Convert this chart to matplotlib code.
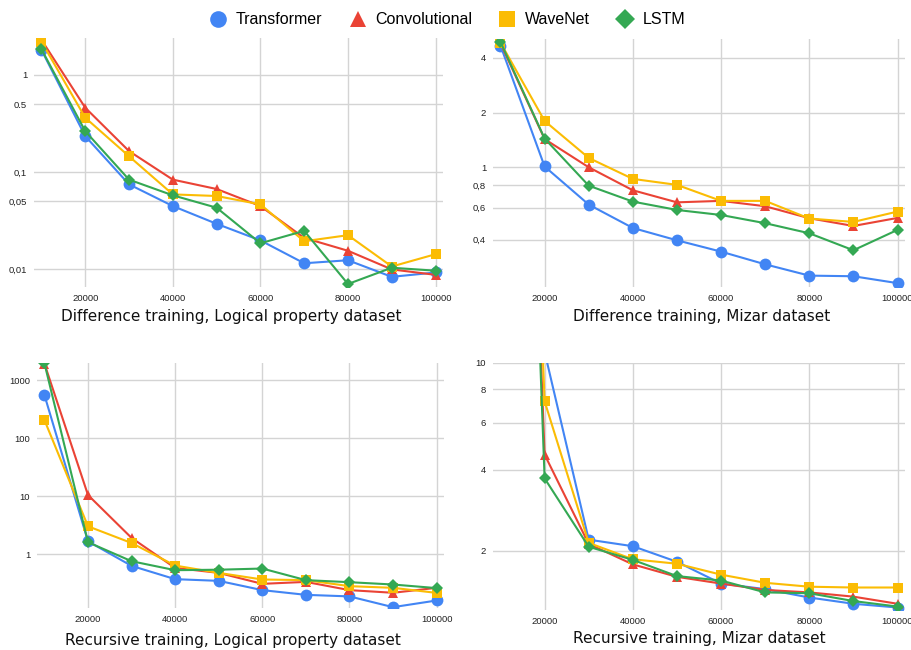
import matplotlib
matplotlib.use("Agg")
import matplotlib.pyplot as plt
from matplotlib.lines import Line2D

# training steps
steps = [10000, 20000, 30000, 40000, 50000, 60000, 70000, 80000, 90000, 100000]
models = ["Transformer", "Convolutional", "WaveNet", "LSTM"]
colors = ["#4285F4", "#EA4335", "#FBBC04", "#34A853"]
markers = ["o", "^", "s", "D"]
msizes = [8.5, 6.5, 6.5, 6]

# Difference training, Logical property dataset
diff_logic_transformer = [1.81, 0.234, 0.0745, 0.0445, 0.0292, 0.0197, 0.01145, 0.0123, 0.0083, 0.0092]
diff_logic_conv = [2.3, 0.459, 0.164, 0.0833, 0.0667, 0.0445, 0.0209, 0.0154, 0.0099, 0.0087]
diff_logic_wavenet = [2.2, 0.362, 0.145, 0.0587, 0.0565, 0.0463, 0.0193, 0.0223, 0.0106, 0.0142]
diff_logic_lstm = [1.84, 0.263, 0.0833, 0.0574, 0.0428, 0.0184, 0.0247, 0.0070, 0.0103, 0.0096]

# Difference training, Mizar dataset
diff_mizar_transformer = [4.68, 1.01, 0.623, 0.463, 0.396, 0.343, 0.292, 0.253, 0.251, 0.230]
diff_mizar_conv = [4.82, 1.43, 1.0, 0.747, 0.641, 0.653, 0.61, 0.524, 0.475, 0.526]
diff_mizar_wavenet = [4.86, 1.80, 1.126, 0.863, 0.80, 0.653, 0.653, 0.522, 0.50, 0.570]
diff_mizar_lstm = [4.9, 1.44, 0.792, 0.647, 0.582, 0.546, 0.492, 0.433, 0.349, 0.452]

# Recursive training, Logical property dataset
rec_logic_transformer = [559, 1.67, 0.629, 0.371, 0.347, 0.240, 0.199, 0.187, 0.122, 0.159]
rec_logic_conv = [1950, 10.5, 1.91, 0.58, 0.476, 0.308, 0.333, 0.240, 0.216, 0.263]
rec_logic_wavenet = [207, 3.03, 1.56, 0.637, 0.476, 0.366, 0.357, 0.281, 0.263, 0.215]
rec_logic_lstm = [1980, 1.61, 0.757, 0.53, 0.54, 0.566, 0.357, 0.329, 0.30, 0.26]

# Recursive training, Mizar dataset (10000-step values are far above the axis)
rec_mizar_transformer = [50000, 11.0, 2.2, 2.08, 1.82, 1.51, 1.44, 1.34, 1.27, 1.23]
rec_mizar_conv = [100000, 4.56, 2.12, 1.78, 1.60, 1.51, 1.43, 1.40, 1.35, 1.27]
rec_mizar_wavenet = [100000, 7.2, 2.14, 1.86, 1.79, 1.63, 1.52, 1.47, 1.46, 1.46]
rec_mizar_lstm = [100000, 3.72, 2.07, 1.85, 1.61, 1.55, 1.40, 1.39, 1.30, 1.24]

xticks = [20000, 40000, 60000, 80000, 100000]

panels = [
    dict(series=[diff_logic_transformer, diff_logic_conv, diff_logic_wavenet, diff_logic_lstm],
         title="Difference training, Logical property dataset",
         yticks=[1, 0.5, 0.1, 0.05, 0.01], ylabels=["1", "0.5", "0,1", "0,05", "0,01"],
         ylim=(0.00652, 2.4), box=(34, 443, 38, 287), title_xy=(231, 317)),
    dict(series=[diff_mizar_transformer, diff_mizar_conv, diff_mizar_wavenet, diff_mizar_lstm],
         title="Difference training, Mizar dataset",
         yticks=[4, 2, 1, 0.8, 0.6, 0.4], ylabels=["4", "2", "1", "0,8", "0,6", "0,4"],
         ylim=(0.219, 5.09), box=(493, 905, 39, 287), title_xy=(702, 316)),
    dict(series=[rec_logic_transformer, rec_logic_conv, rec_logic_wavenet, rec_logic_lstm],
         title="Recursive training, Logical property dataset",
         yticks=[1000, 100, 10, 1], ylabels=["1000", "100", "10", "1"],
         ylim=(0.118, 1990), box=(37, 444, 363, 608), title_xy=(233, 640)),
    dict(series=[rec_mizar_transformer, rec_mizar_conv, rec_mizar_wavenet, rec_mizar_lstm],
         title="Recursive training, Mizar dataset",
         yticks=[10, 8, 6, 4, 2], ylabels=["10", "8", "6", "4", "2"],
         ylim=(1.204, 10), box=(493, 905, 363, 610), title_xy=(699, 638)),
]

W, H = 912, 650
fig = plt.figure(figsize=(W / 100, H / 100), dpi=100)

for p in panels:
    l, r, t, b = p["box"]
    ax = fig.add_axes([l / W, 1 - b / H, (r - l) / W, (b - t) / H])
    ax.set_yscale("log")
    for vals, c, m, ms in zip(p["series"], colors, markers, msizes):
        ax.plot(steps, vals, color=c, marker=m, markersize=ms, linewidth=1.5,
                markeredgewidth=0, zorder=3)
    ax.set_xlim(8300, 101700)
    ax.set_ylim(*p["ylim"])
    ax.set_yticks(p["yticks"])
    ax.set_yticklabels(p["ylabels"])
    ax.yaxis.set_minor_locator(matplotlib.ticker.NullLocator())
    ax.set_xticks(xticks)
    ax.set_xticklabels([str(v) for v in xticks])
    ax.grid(True, color="#d4d4d4", linewidth=1.0)
    ax.set_axisbelow(True)
    for s in ax.spines.values():
        s.set_visible(False)
    ax.tick_params(length=0, labelsize=6.8, labelcolor="#222222", pad=5)
    for lab in ax.get_xticklabels() + ax.get_yticklabels():
        lab.set_family("Liberation Sans")
    tx, ty = p["title_xy"]
    fig.text(tx / W, 1 - ty / H, p["title"], ha="center", va="center",
             fontsize=11, family="DejaVu Sans", color="#111111")

handles = [Line2D([], [], linestyle="none", marker=m, color=c, markersize=ms,
                  markeredgewidth=0)
           for c, m, ms in zip(colors, markers, [12, 11, 11, 10.5])]
fig.legend(handles, models, loc="center", bbox_to_anchor=(447 / W, 1 - 20 / H), ncol=4,
           frameon=False, prop={"family": "Liberation Sans", "size": 11.5},
           handletextpad=0.5, columnspacing=1.6, handlelength=1.2)

fig.savefig("out.png", dpi=100)
